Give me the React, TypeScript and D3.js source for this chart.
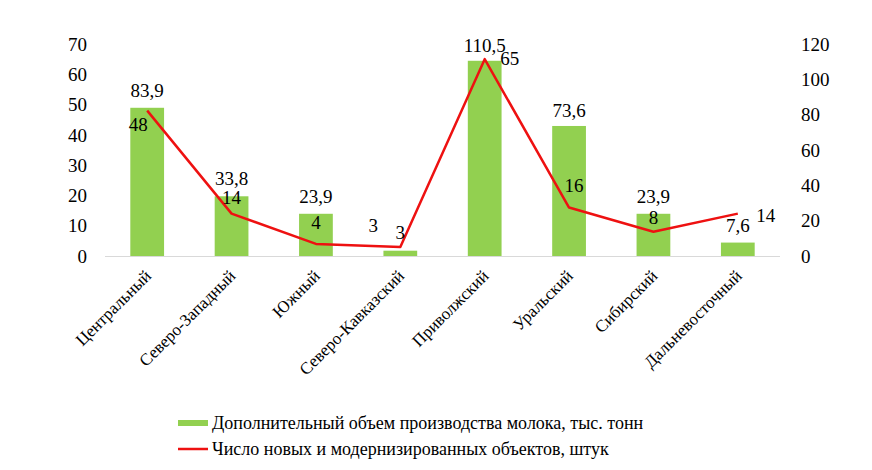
import { scaleBand, scaleLinear, line } from 'd3'

const regions = [
	'Центральный',
	'Северо-Западный',
	'Южный',
	'Северо-Кавказский',
	'Приволжский',
	'Уральский',
	'Сибирский',
	'Дальневосточный',
]
const milkLabels = ['83,9', '33,8', '23,9', '3', '110,5', '73,6', '23,9', '7,6']
const milkValues = [83.9, 33.8, 23.9, 3, 110.5, 73.6, 23.9, 7.6]
const objectValues = [48, 14, 4, 3, 65, 16, 8, 14]
const leftTicks = [0, 10, 20, 30, 40, 50, 60, 70]
const rightTicks = [0, 20, 40, 60, 80, 100, 120]
const barSeriesName = 'Дополнительный объем производства молока, тыс. тонн'
const lineSeriesName = 'Число новых и модернизированных объектов, штук'

// label nudges, as placed by hand in the original
const barLabelShift: [number, number][] = [[0, 0], [0, 0], [0, 0], [-27, -8], [0, 2], [0, 2], [0, 0], [0, 0]]
const lineLabelShift: [number, number][] = [[-9, 20], [0, -10], [0, -15], [0, -8], [25, 6], [5, -16], [0, -8], [28, 8]]

const GREEN = '#92D050'
const RED = '#EE1111'
const SERIF = 'Times New Roman'

function Label(props: { x: number; y: number; size: number; anchor?: string; dy?: string; transform?: string; children: any }) {
	return (
		<text
			x={props.x}
			y={props.y}
			dy={props.dy}
			transform={props.transform}
			textAnchor={props.anchor ?? 'start'}
			fontFamily={SERIF}
			fontSize={props.size}
			fill="#000"
			style={{ fontFamily: `'${SERIF}'` }}
		>
			{props.children}
		</text>
	)
}

export default function App() {
	const width = 872
	const height = 470
	const plot = { left: 105, right: 780, top: 44, bottom: 256 }

	const x = scaleBand<string>()
		.domain(regions)
		.range([plot.left, plot.right])
		.paddingInner(0.6)
		.paddingOuter(0.3)
	const yLeft = scaleLinear().domain([0, 70]).range([plot.bottom, plot.top])
	const yRight = scaleLinear().domain([0, 120]).range([plot.bottom, plot.top])
	const cx = (r: string) => (x(r) ?? 0) + x.bandwidth() / 2

	const path = line<number>()
		.x((_, i) => cx(regions[i]))
		.y((d) => yLeft(d))(objectValues)

	return (
		<svg width={width} height={height} style={{ position: 'absolute', left: 0, top: 0 }}>
			{leftTicks.map((t) => (
				<Label key={`l${t}`} x={87} y={yLeft(t)} dy="0.35em" anchor="end" size={19}>
					{t}
				</Label>
			))}
			{rightTicks.map((t) => (
				<Label key={`r${t}`} x={801} y={yRight(t)} dy="0.35em" size={19}>
					{t}
				</Label>
			))}

			{regions.map((r, i) => (
				<rect
					key={r}
					x={x(r)}
					y={yRight(milkValues[i])}
					width={x.bandwidth()}
					height={plot.bottom - yRight(milkValues[i])}
					fill={GREEN}
				/>
			))}

			<line x1={plot.left} x2={plot.right} y1={plot.bottom + 0.5} y2={plot.bottom + 0.5} stroke="#D9D9D9" strokeWidth={1.2} />

			<path d={path ?? ''} fill="none" stroke={RED} strokeWidth={2.5} strokeLinejoin="round" />

			{regions.map((r, i) => (
				<Label
					key={`bl${r}`}
					x={cx(r) + barLabelShift[i][0]}
					y={yRight(milkValues[i]) - 11 + barLabelShift[i][1]}
					anchor="middle"
					size={19}
				>
					{milkLabels[i]}
				</Label>
			))}
			{regions.map((r, i) => (
				<Label
					key={`ll${r}`}
					x={cx(r) + lineLabelShift[i][0]}
					y={yLeft(objectValues[i]) + lineLabelShift[i][1]}
					anchor="middle"
					size={19}
				>
					{objectValues[i]}
				</Label>
			))}

			{regions.map((r) => (
				<Label
					key={`c${r}`}
					x={0}
					y={0}
					transform={`translate(${cx(r) + 5}, ${plot.bottom + 21}) rotate(-45)`}
					anchor="end"
					size={17}
				>
					{r}
				</Label>
			))}

			<rect x={178} y={420} width={30} height={6} fill={GREEN} />
			<Label x={212} y={429} size={18}>
				{barSeriesName}
			</Label>
			<line x1={178} x2={208} y1={449} y2={449} stroke={RED} strokeWidth={2.5} />
			<Label x={212} y={455} size={18}>
				{lineSeriesName}
			</Label>
		</svg>
	)
}
